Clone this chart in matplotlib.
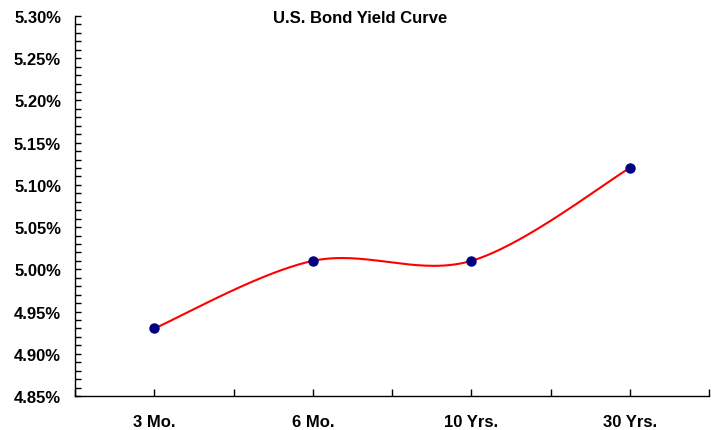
import numpy as np
import matplotlib
matplotlib.use("Agg")
import matplotlib.pyplot as plt
from matplotlib.ticker import MultipleLocator, FuncFormatter

plt.rcParams["font.family"] = ["Liberation Sans", "DejaVu Sans"]
plt.rcParams["font.weight"] = "bold"

maturities = ["3 Mo.", "6 Mo.", "10 Yrs.", "30 Yrs."]
yields = [4.93, 5.01, 5.01, 5.12]


def smooth_curve(x, y, steps=60):
    # Catmull-Rom style smoothing, endpoints reuse themselves as neighbours
    x = np.asarray(x, float)
    y = np.asarray(y, float)
    px = np.concatenate([[x[0]], x, [x[-1]]])
    py = np.concatenate([[y[0]], y, [y[-1]]])
    xs, ys = [], []
    for i in range(1, len(px) - 2):
        t = np.linspace(0, 1, steps)
        h00 = 2 * t**3 - 3 * t**2 + 1
        h10 = t**3 - 2 * t**2 + t
        h01 = -2 * t**3 + 3 * t**2
        h11 = t**3 - t**2
        mx0 = (px[i + 1] - px[i - 1]) / 2
        mx1 = (px[i + 2] - px[i]) / 2
        my0 = (py[i + 1] - py[i - 1]) / 2
        my1 = (py[i + 2] - py[i]) / 2
        xs.append(h00 * px[i] + h10 * mx0 + h01 * px[i + 1] + h11 * mx1)
        ys.append(h00 * py[i] + h10 * my0 + h01 * py[i + 1] + h11 * my1)
    return np.concatenate(xs), np.concatenate(ys)


fig = plt.figure(figsize=(7.17, 4.31), dpi=100)
ax = fig.add_axes([0.1046, 0.0789, 0.8844, 0.8817])

xpos = np.arange(len(maturities))
cx, cy = smooth_curve(xpos, yields)
ax.plot(cx, cy, color="#ff0000", lw=1.5, zorder=2)
ax.plot(xpos, yields, "o", color="#000080", ms=6.5, zorder=3)

ax.set_xlim(-0.5, len(maturities) - 0.5)
ax.set_ylim(4.85, 5.30)

ax.yaxis.set_major_locator(MultipleLocator(0.05))
ax.yaxis.set_minor_locator(MultipleLocator(0.01))
ax.yaxis.set_major_formatter(FuncFormatter(lambda v, _: f"{v:.2f}%"))

ax.set_xticks(xpos)
ax.set_xticklabels(maturities)
ax.set_xticks(np.arange(-0.5, len(maturities), 0.5), minor=True)

ax.tick_params(axis="y", which="both", direction="in", length=4, width=1,
               labelsize=12, pad=10)
ax.tick_params(axis="x", which="both", direction="in", length=5, width=1,
               labelsize=12, pad=13)

for side in ("top", "right"):
    ax.spines[side].set_visible(False)
for side in ("left", "bottom"):
    ax.spines[side].set_linewidth(1)

fig.text(0.502, 0.958, "U.S. Bond Yield Curve", ha="center", va="center",
         fontsize=12, fontweight="bold")

fig.savefig("out.png", dpi=100)
